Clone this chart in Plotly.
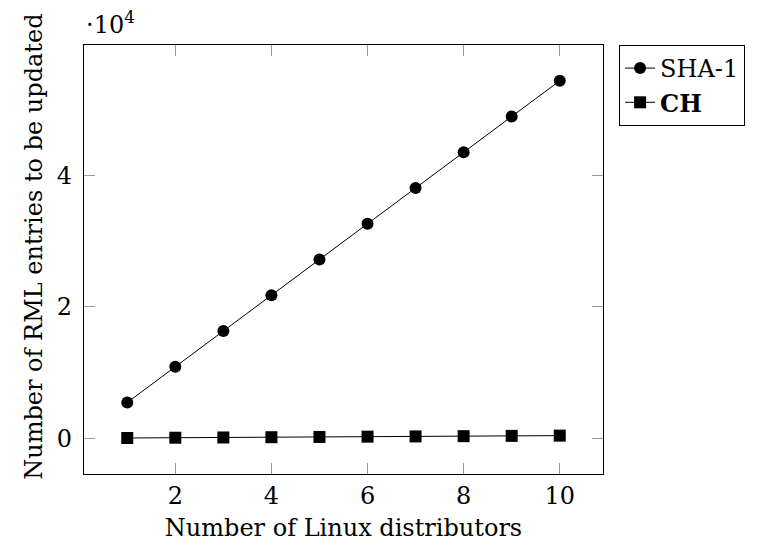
import plotly.graph_objects as go

distributors = [1, 2, 3, 4, 5, 6, 7, 8, 9, 10]
sha1_entries = [5440, 10880, 16320, 21760, 27200, 32640, 38080, 43520, 48960, 54400]
ch_entries = [40, 80, 120, 160, 200, 240, 280, 320, 360, 400]

x_ticks = [2, 4, 6, 8, 10]
y_ticks = [0, 20000, 40000]
y_tick_labels = ["0", "2", "4"]

FONT = "DejaVu Serif"
FS = 24

fig = go.Figure()
fig.add_trace(go.Scatter(
    x=distributors, y=sha1_entries, name="SHA-1", mode="lines+markers",
    line=dict(color="black", width=1),
    marker=dict(symbol="circle", size=12, color="black"),
))
fig.add_trace(go.Scatter(
    x=distributors, y=ch_entries, name="<b>CH</b>", mode="lines+markers",
    line=dict(color="black", width=1),
    marker=dict(symbol="square", size=12, color="black"),
))

axis_common = dict(
    showline=True, linecolor="black", linewidth=1.3, mirror="ticks",
    ticks="inside", ticklen=11, tickcolor="#999999", tickwidth=1.3,
    showgrid=False, zeroline=False,
    tickfont=dict(family=FONT, size=FS, color="black"),
)

fig.update_layout(
    width=767, height=549,
    margin=dict(l=84, r=164, t=45, b=73),
    paper_bgcolor="white", plot_bgcolor="white",
    font=dict(family=FONT, size=FS, color="black"),
    xaxis=dict(range=[0.1, 10.9], tickvals=x_ticks,
               title=dict(text="Number of Linux distributors",
                          font=dict(family=FONT, size=FS), standoff=10),
               **axis_common),
    yaxis=dict(range=[-5440, 59840], tickvals=y_ticks, ticktext=y_tick_labels,
               ticklabelstandoff=6,
               **axis_common),
    legend=dict(x=1.031, y=1.0, xanchor="left", yanchor="top",
                bordercolor="black", borderwidth=1, bgcolor="white",
                font=dict(family=FONT, size=FS), tracegroupgap=0,
                itemwidth=30),
    showlegend=True,
)

fig.add_annotation(
    text="Number of RML entries to be updated", xref="paper", yref="paper",
    x=-0.098, y=0.53, xanchor="center", yanchor="middle", textangle=-90,
    showarrow=False, font=dict(family=FONT, size=FS),
)

fig.add_annotation(
    text="·10<sup>4</sup>", xref="paper", yref="paper", x=0.0, y=1.0,
    xanchor="left", yanchor="bottom", yshift=4, showarrow=False,
    font=dict(family=FONT, size=FS),
)

fig.write_html("out.html")
